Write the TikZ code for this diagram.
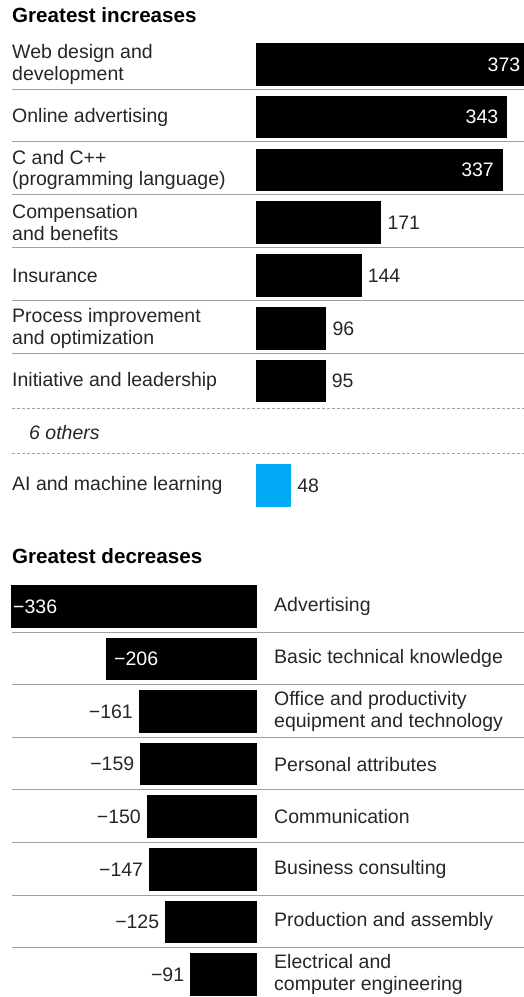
\documentclass[tikz,border=0pt]{standalone}
\usepackage{fontspec}
\setmainfont{Liberation Sans}
\definecolor{ink}{HTML}{262626}
\definecolor{rulegray}{HTML}{A0A0A0}
\definecolor{aiblue}{HTML}{00A9F4}
\begin{document}
\begin{tikzpicture}[x=1pt,y=-1pt,
  ttl/.style={anchor=base west,inner sep=0pt,text=black,font=\fontsize{20.6}{24}\selectfont\bfseries},
  lbl/.style={anchor=west,inner sep=0pt,align=left,text=ink,font=\fontsize{19.5}{21.5}\selectfont},
  num/.style={inner sep=0pt,text=ink,font=\fontsize{19.5}{21.5}\selectfont},
  sep/.style={draw=rulegray,line width=0.9pt},
  dsep/.style={draw=rulegray,line width=0.8pt,dash pattern=on 2.5pt off 2.5pt}]
\useasboundingbox (0,0) rectangle (524,997);
%increases
\node[ttl] (inctitle) at (12,22) {Greatest increases};
\foreach \v/\t [count=\i] in {373/{Web design and\\development},
    343/{Online advertising},
    337/{C and C++\\(programming language)},
    171/{Compensation\\and benefits},
    144/{Insurance},
    96/{Process improvement\\and optimization},
    95/{Initiative and leadership}} {
  \pgfmathsetmacro\top{43+52.8*(\i-1)}
  \pgfmathsetmacro\mid{\top+21.3}
  \fill[black] (256,\top) rectangle ++(0.733*\v,42.6);
  \node[lbl] (inc\i) at (12,\mid) {\t};
  \ifnum\v>300
    \node[num,anchor=east,text=white] (inc\i val) at (256+0.733*\v-9,\mid) {\v};
  \else
    \node[num,anchor=west] (inc\i val) at (256+0.733*\v+6,\mid) {\v};
  \fi
  \ifnum\i<7 \draw[sep] (12,\top+46) -- (524,\top+46); \fi
}
\draw[dsep] (12,408) -- (524,408);
\node[lbl,font=\fontsize{19.5}{21.5}\selectfont\itshape] (others) at (29,433) {6 others};
\draw[dsep] (12,453) -- (524,453);
\fill[aiblue] (256,464) rectangle ++(0.733*48,42.6);
\node[lbl] (ai) at (12,485.3) {AI and machine learning};
\node[num,anchor=west] (aival) at (256+0.733*48+6,485.3) {48};
%decreases
\node[ttl] (dectitle) at (12,563) {Greatest decreases};
\foreach \v/\t [count=\i] in {336/{Advertising},
    206/{Basic technical knowledge},
    161/{Office and productivity\\equipment and technology},
    159/{Personal attributes},
    150/{Communication},
    147/{Business consulting},
    125/{Production and assembly},
    91/{Electrical and\\computer engineering}} {
  \pgfmathsetmacro\top{585+52.6*(\i-1)}
  \pgfmathsetmacro\mid{\top+21.3}
  \fill[black] (257,\top) rectangle ++(-0.733*\v,42.6);
  \node[lbl] (dec\i) at (274,\mid) {\t};
  \ifnum\v>200
    \pgfmathsetmacro\tx{\v>300 ? 13 : 257-0.733*\v+8}
    \node[num,anchor=west,text=white] (dec\i val) at (\tx,\mid) {−\v};
  \else
    \node[num,anchor=east] (dec\i val) at (257-0.733*\v-6,\mid) {−\v};
  \fi
  \ifnum\i<8 \draw[sep] (12,\top+47) -- (524,\top+47); \fi
}
\end{tikzpicture}
\end{document}
